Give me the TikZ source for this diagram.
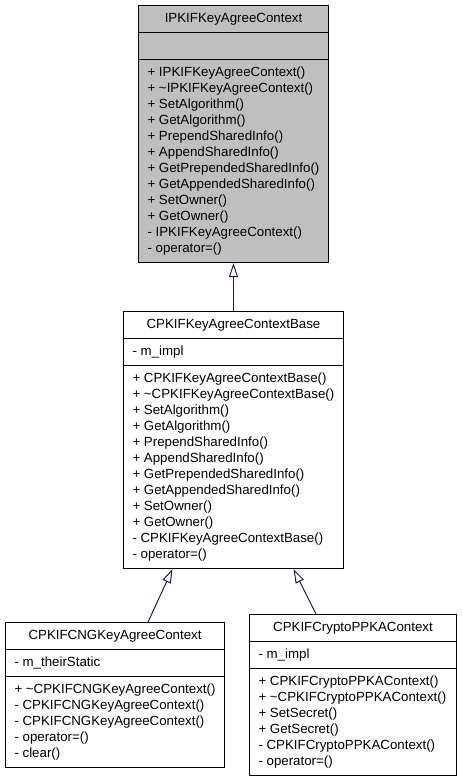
\documentclass[tikz,border=0pt]{standalone}
\usepackage{fontspec}
\setmainfont{Liberation Sans}
\usetikzlibrary{arrows.meta,positioning,shapes.multipart}
\definecolor{edgeblue}{RGB}{25,25,112}
\definecolor{ifacegray}{RGB}{191,191,191}
\tikzset{
  classbox/.style={
    rectangle split,
    rectangle split parts=3,
    rectangle split part align={center,left,left},
    draw=black, line width=1pt,
    fill=white,
    align=left,
    inner xsep=9pt, inner ysep=5pt,
    font=\fontsize{13.3}{16}\selectfont},
  iface/.style={classbox, fill=ifacegray},
  inherit/.style={draw=edgeblue, line width=1pt,
    -{Triangle[open, length=14pt, width=9pt]}},
}
\newcommand{\tld}{\textasciitilde}

\begin{document}
\begin{tikzpicture}[x=1pt, y=-1pt]
\useasboundingbox (0,0) rectangle (461,779);
% interface at the top
\node[iface, minimum width=187pt, anchor=north] (ipkif) at (233.5,5)
  {\strut IPKIFKeyAgreeContext\strut
   \nodepart{two}\strut
   \nodepart{three}\strut + IPKIFKeyAgreeContext()\\
   + \tld IPKIFKeyAgreeContext()\\
   + SetAlgorithm()\\
   + GetAlgorithm()\\
   + PrependSharedInfo()\\
   + AppendSharedInfo()\\
   + GetPrependedSharedInfo()\\
   + GetAppendedSharedInfo()\\
   + SetOwner()\\
   + GetOwner()\\
   - IPKIFKeyAgreeContext()\\
   - operator=()\strut};
% base class
\node[classbox, minimum width=220pt, below=48pt of ipkif] (base)
  {\strut CPKIFKeyAgreeContextBase\strut
   \nodepart{two}\strut - m\_impl\strut
   \nodepart{three}\strut + CPKIFKeyAgreeContextBase()\\
   + \tld CPKIFKeyAgreeContextBase()\\
   + SetAlgorithm()\\
   + GetAlgorithm()\\
   + PrependSharedInfo()\\
   + AppendSharedInfo()\\
   + GetPrependedSharedInfo()\\
   + GetAppendedSharedInfo()\\
   + SetOwner()\\
   + GetOwner()\\
   - CPKIFKeyAgreeContextBase()\\
   - operator=()\strut};
% derived classes
\node[classbox, minimum width=218pt, anchor=north west] (cng) at (5,622)
  {\strut CPKIFCNGKeyAgreeContext\strut
   \nodepart{two}\strut - m\_theirStatic\strut
   \nodepart{three}\strut + \tld CPKIFCNGKeyAgreeContext()\\
   - CPKIFCNGKeyAgreeContext()\\
   - CPKIFCNGKeyAgreeContext()\\
   - operator=()\\
   - clear()\strut};
\node[classbox, minimum width=207pt, anchor=north west] (ppka) at (249,614)
  {\strut CPKIFCryptoPPKAContext\strut
   \nodepart{two}\strut - m\_impl\strut
   \nodepart{three}\strut + CPKIFCryptoPPKAContext()\\
   + \tld CPKIFCryptoPPKAContext()\\
   + SetSecret()\\
   + GetSecret()\\
   - CPKIFCryptoPPKAContext()\\
   - operator=()\strut};
% inheritance
\draw[inherit] (base.north) -- (ipkif.south);
\draw[inherit] ([xshift=33pt]cng.north) -- ([xshift=-61pt]base.south);
\draw[inherit] ([xshift=-37pt]ppka.north) -- ([xshift=60pt]base.south);
\end{tikzpicture}
\end{document}
